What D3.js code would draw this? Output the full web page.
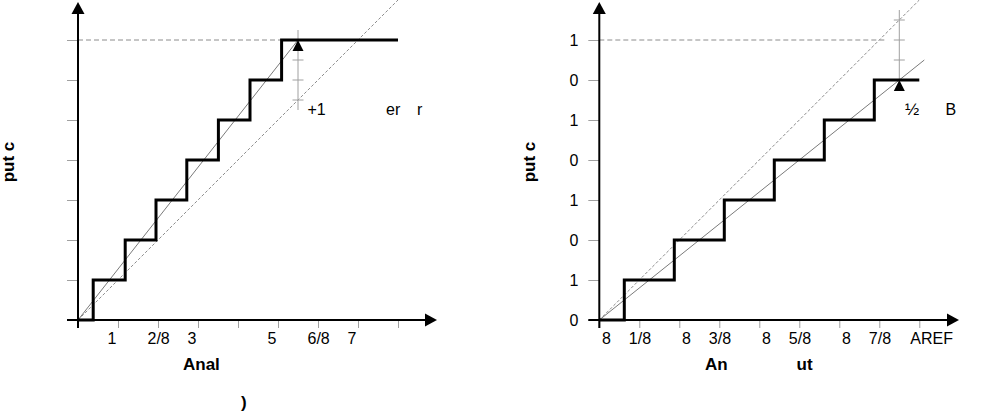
<!DOCTYPE html>
<html><head><meta charset="utf-8">
<script src="https://cdn.jsdelivr.net/npm/d3@7"></script>
<style>
body{margin:0;background:#fff}
svg{display:block}
text{font-family:"Liberation Sans",Arial,Helvetica,sans-serif;fill:#000}
</style>
</head><body>
<svg id="c" width="1001" height="414"></svg>
<script>
// ---- data ----
const leftTransitions  = [0.38, 1.18, 1.95, 2.72, 3.51, 4.30, 5.09];   // code k -> k+1
const rightTransitions = [0.625, 1.875, 3.125, 4.375, 5.625, 6.875];
const stairEnd = 8;
const leftActual  = [[0, 0], [5.5, 7]];
const rightActual = [[0, 0], [8.125, 6.5]];
const idealLine   = [[0, 0], [8, 8]];
const leftXTicks  = [1, 2, 3, 4, 5, 6, 7, 8];
const leftXLabels = ["1", "2/8", "3", "", "5", "6/8", "7", ""];
const rightXTicks  = [0, 1, 2, 3, 4, 5, 6, 7, 8];
const rightXLabels = ["8", "1/8", "8", "3/8", "8", "5/8", "8", "7/8", "AREF"];
const leftYTicks  = [1, 2, 3, 4, 5, 6, 7];
const rightYTicks = [0, 1, 2, 3, 4, 5, 6, 7];
const rightYLabels = ["0", "1", "0", "1", "0", "1", "0", "1"];
const leftFullScale = 7, rightFullScale = 7;
const leftError  = {x: 5.5, from: 5.25, to: 7.25, ticks: [5.5, 6, 6.5], tip: 7};
const rightError = {x: 7.5, from: 5.75, to: 7.75, ticks: [6.5, 7, 7.5], tip: 6};
const yTitle = "put c";

const svg = d3.select("#c");
svg.append("rect").attr("width", 1001).attr("height", 414).attr("fill", "#fff");

function panel(o) {
  const x = d3.scaleLinear().domain([0, 8]).range(o.xr);
  const y = d3.scaleLinear().domain([0, 8]).range([320, 0]);
  const g = svg.append("g");
  const line = d3.line().x(d => x(d[0])).y(d => y(d[1]));

  // x ticks
  const xa = d3.axisBottom(x).tickValues(o.xTicks).tickSize(8).tickPadding(4)
    .tickFormat((d, i) => o.xLabels[i]);
  const gx = g.append("g").attr("transform", "translate(0,320)").call(xa);
  gx.select(".domain").remove();
  gx.selectAll(".tick line").attr("stroke", "#a0a0a0").attr("stroke-width", 1);
  gx.selectAll(".tick text").attr("font-size", 16).attr("dy", null).attr("y", 24)
    .attr("text-anchor", t => (o.xLabels[o.xTicks.indexOf(t)] === "8") ? "end" : "start")
    .attr("x", t => {
      const s = o.xLabels[o.xTicks.indexOf(t)];
      if (s === "8") return 11;
      if (s === "AREF") return -9.5;
      return -11;
    });

  // y ticks
  const ya = d3.axisLeft(y).tickValues(o.yTicks).tickSize(11).tickPadding(10)
    .tickFormat((d, i) => o.yLabels ? o.yLabels[i] : "");
  const gy = g.append("g").attr("transform", `translate(${x(0)},0)`).call(ya);
  gy.select(".domain").remove();
  gy.selectAll(".tick line").attr("stroke", "#a0a0a0").attr("stroke-width", 1);
  gy.selectAll(".tick text").attr("font-size", 16).attr("dy", "0.36em");

  // dashed full-scale horizontal
  g.append("path").attr("d", line([[0, o.fs], [o.hEnd, o.fs]]))
    .attr("stroke", "#8c8c8c").attr("stroke-width", 1).attr("stroke-dasharray", "5,3").attr("fill", "none");
  // ideal dashed diagonal
  g.append("path").attr("d", line(idealLine))
    .attr("stroke", "#8c8c8c").attr("stroke-width", 1).attr("stroke-dasharray", "3,2").attr("fill", "none");
  // actual thin line
  g.append("path").attr("d", line(o.actual))
    .attr("stroke", "#7a7a7a").attr("stroke-width", 1).attr("fill", "none");

  // error marker
  const e = o.err;
  g.append("line").attr("x1", x(e.x)).attr("x2", x(e.x)).attr("y1", y(e.to)).attr("y2", y(e.from))
    .attr("stroke", "#a0a0a0").attr("stroke-width", 1);
  e.ticks.forEach(t => g.append("line").attr("x1", x(e.x) - 5.5).attr("x2", x(e.x) + 5.5)
    .attr("y1", y(t)).attr("y2", y(t)).attr("stroke", "#a0a0a0").attr("stroke-width", 1));

  // staircase
  const pts = [[0, 0]];
  o.trans.forEach((t, k) => pts.push([t, k + 1]));
  pts.push([stairEnd, o.trans.length]);
  g.append("path").attr("d", d3.line().x(d => x(d[0])).y(d => y(d[1])).curve(d3.curveStepAfter)(pts))
    .attr("stroke", "#000").attr("stroke-width", 3).attr("fill", "none").attr("stroke-linejoin", "miter");

  // error arrowhead
  const tx = x(e.x), ty = y(e.tip), dir = e.tip > e.from ? 1 : -1;
  g.append("path").attr("d", `M${tx},${ty}L${tx - 5.5},${ty + dir * 11}L${tx + 5.5},${ty + dir * 11}Z`).attr("fill", "#000");

  // main axes
  const x0 = x(0), y0 = y(0);
  g.append("line").attr("x1", x0).attr("x2", x0).attr("y1", 328).attr("y2", 8)
    .attr("stroke", "#000").attr("stroke-width", 2);
  g.append("line").attr("x1", x0 - 11).attr("x2", o.xArrow - 8).attr("y1", y0).attr("y2", y0)
    .attr("stroke", "#000").attr("stroke-width", 2);
  g.append("path").attr("d", `M${x0},2L${x0 - 6.5},14L${x0 + 6.5},14Z`).attr("fill", "#000");
  g.append("path").attr("d", `M${o.xArrow},${y0}L${o.xArrow - 12},${y0 - 6.5}L${o.xArrow - 12},${y0 + 6.5}Z`).attr("fill", "#000");

  // y title
  g.append("text").attr("transform", `translate(${o.yTitleX},${o.yTitleY}) rotate(-90)`)
    .attr("text-anchor", "middle").attr("font-size", 17).attr("font-weight", "bold").text(yTitle);
  return {g, x, y};
}

const L = panel({xr: [78, 398], xTicks: leftXTicks, xLabels: leftXLabels, yTicks: leftYTicks, yLabels: null,
  fs: leftFullScale, hEnd: 5.1, actual: leftActual, err: leftError, trans: leftTransitions,
  xArrow: 437, yTitleX: 14, yTitleY: 162});
const R = panel({xr: [599.3, 919.3], xTicks: rightXTicks, xLabels: rightXLabels, yTicks: rightYTicks, yLabels: rightYLabels,
  fs: rightFullScale, hEnd: 7.15, actual: rightActual, err: rightError, trans: rightTransitions,
  xArrow: 959, yTitleX: 535, yTitleY: 162});

// titles and annotations
const T = [
  {x: 183, y: 370, t: "Anal", b: true, s: 17},
  {x: 705, y: 370, t: "An", b: true, s: 17},
  {x: 796.5, y: 370, t: "ut", b: true, s: 17},
  {x: 241, y: 408, t: ")", b: true, s: 17},
  {x: 307.5, y: 115, t: "+1", b: false, s: 16},
  {x: 386, y: 115, t: "er", b: false, s: 16},
  {x: 417, y: 115, t: "r", b: false, s: 16},
  {x: 905, y: 115, t: "½", b: false, s: 17},
  {x: 945.5, y: 115, t: "B", b: false, s: 16}
];
svg.selectAll("text.ann").data(T).enter().append("text").attr("class", "ann")
  .attr("x", d => d.x).attr("y", d => d.y).attr("font-size", d => d.s)
  .attr("font-weight", d => d.b ? "bold" : "normal").text(d => d.t);
</script>
</body></html>
